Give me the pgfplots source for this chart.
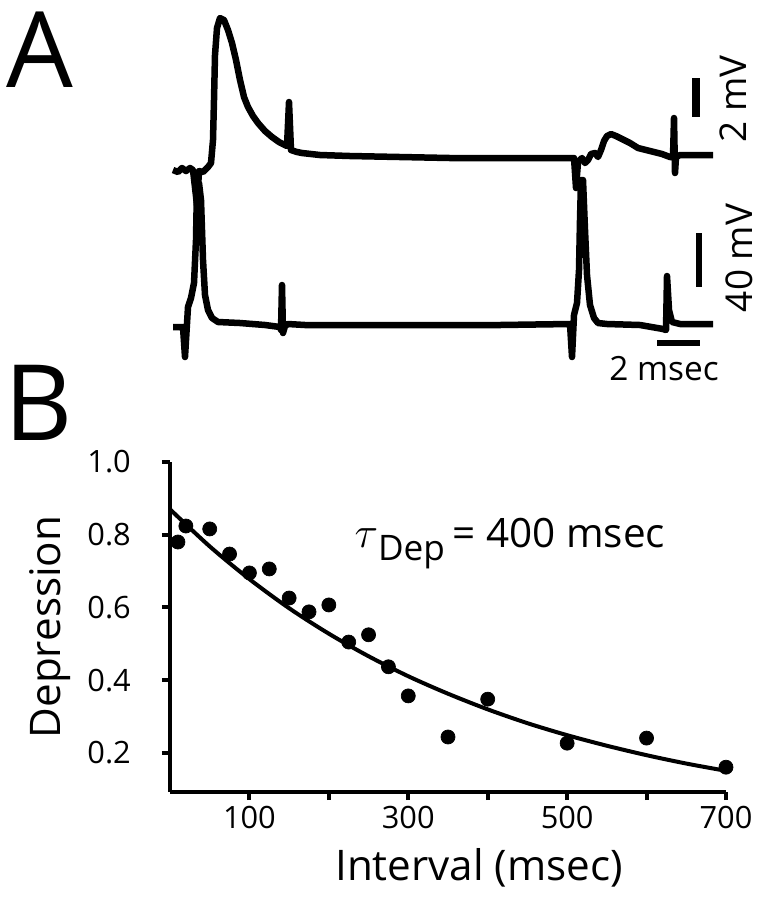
\documentclass[border=0pt]{standalone}
\usepackage{pgfplots}
\pgfplotsset{compat=1.18}
\usepackage{fontspec}
\setmainfont{Open Sans}

\begin{document}
\begin{tikzpicture}
\useasboundingbox (0,0) rectangle (15.24,18);
% panel A: recorded traces, drawn in figure pixel units
\begin{axis}[
  at={(0,0)}, anchor=south west,
  scale only axis, width=15.24cm, height=18cm,
  xmin=0, xmax=762, ymin=0, ymax=900, y dir=reverse,
  hide axis, clip=false,
]
% upper trace (EPSP)
\addplot[black, line width=0.13cm, line join=round] coordinates {
  (173,170) (178,172) (182,168) (186,171) (190,168) (193,170) (197,205)
  (199,171) (203,172) (208,167) (211,163) (213,140) (214,100) (215,55)
  (217,28) (220,18) (224,20) (228,30) (232,43) (236,60) (240,80) (244,97)
  (248,107) (253,116) (258,123) (265,131) (272,137) (279,142) (287,146)
  (289,102) (291,150) (297,152) (302,153) (320,155) (350,156) (400,157)
  (450,158) (500,158) (550,158) (574,158) (576,188) (578,162) (582,158)
  (585,163) (588,160) (591,154) (595,153) (598,157) (601,150) (604,141)
  (607,136) (611,134) (616,136) (622,139) (630,143) (638,148) (646,150)
  (654,152) (662,154) (670,157) (673,157) (674,118) (675,173) (676,157)
  (680,155) (690,155) (700,155) (713,155)
};
% lower trace (presynaptic spikes)
\addplot[black, line width=0.13cm, line join=round] coordinates {
  (173,327) (183,327) (185,357) (188,307) (191,298) (194,283) (196,240)
  (197,185) (199,183) (201,200) (203,260) (205,295) (208,310) (212,318)
  (218,322) (240,323) (265,325) (280,327) (281,330) (282,285) (283,333)
  (285,326) (288,324) (305,325) (400,325) (500,325) (570,324) (572,357)
  (574,315) (577,303) (579,270) (580,220) (581,180) (583,180) (585,230)
  (587,275) (590,305) (594,318) (598,323) (607,324) (640,325) (663,329)
  (666,330) (667,276) (669,310) (672,322) (680,324) (713,324)
};
% scale bars
\addplot[black, line width=0.16cm] coordinates {(696,78) (696,117)};
\addplot[black, line width=0.12cm] coordinates {(699,233) (699,287)};
\addplot[black, line width=0.12cm] coordinates {(657,343) (700,343)};
\node[rotate=90, font=\fontsize{21}{24}\selectfont] at (axis cs:733,99) {2 mV};
\node[rotate=90, font=\fontsize{21}{24}\selectfont] at (axis cs:739,258) {40 mV};
\node[anchor=base, font=\fontsize{19}{22}\selectfont] at (axis cs:664,380) {2 msec};
\node[anchor=base west, inner sep=0pt, font=\fontsize{60}{60}\selectfont] at (axis cs:6,87) {A};
\node[anchor=base west, inner sep=0pt, font=\fontsize{60}{60}\selectfont] at (axis cs:4,440) {B};
\end{axis}

% panel B: depression vs interval
\begin{axis}[
  at={(3.4cm,2.16cm)}, anchor=south west,
  scale only axis, width=11.12cm, height=6.6cm,
  xmin=0, xmax=700, ymin=0.0928, ymax=1.0,
  axis x line=bottom, axis y line=left,
  axis line style={-, line width=0.08cm},
  every tick/.style={black, line width=0.08cm},
  major tick length=0.16cm, tick align=outside,
  xtick={100,200,...,700}, xticklabels={100,,300,,500,,700},
  ytick={0.2,0.4,0.6,0.8,1.0},
  yticklabel style={/pgf/number format/fixed, /pgf/number format/fixed zerofill,
    /pgf/number format/precision=1, xshift=-0.5cm},
  /pgf/number format/assume math mode=true,
  tick label style={font=\fontsize{17.5}{20}\selectfont},
  xlabel={Interval (msec)}, ylabel={Depression},
  every axis x label/.style={at={(axis description cs:0.556,-0.23)}, anchor=center,
    font=\fontsize{24}{28}\selectfont},
  every axis y label/.style={at={(axis description cs:-0.215,0.5)}, rotate=90, anchor=center,
    font=\fontsize{24}{28}\selectfont},
  clip=false,
]
\addplot[black, line width=0.08cm, smooth] coordinates {
  (0,0.870) (50,0.768) (100,0.678) (150,0.598) (200,0.528) (250,0.466)
  (300,0.411) (350,0.363) (400,0.320) (450,0.282) (500,0.249) (550,0.220)
  (600,0.194) (650,0.171) (700,0.151)
};
\addplot[only marks, mark=*, mark size=4pt, black] coordinates {
  (10,0.78) (20,0.824) (50,0.816) (75,0.747) (100,0.695) (125,0.706)
  (150,0.626) (175,0.588) (200,0.607) (225,0.505) (250,0.525) (275,0.437)
  (300,0.357) (350,0.244) (400,0.348) (500,0.227) (600,0.241) (700,0.161)
};
\node[anchor=base west, inner sep=0pt, font=\fontsize{23}{24}\selectfont]
  at (axis cs:232,0.766) {\fontsize{27}{28}\selectfont$\tau$\raisebox{-0.26cm}{\fontsize{20}{20}\selectfont Dep}\,\fontsize{23}{24}\selectfont= 400 msec};
\end{axis}
\end{tikzpicture}
\end{document}
